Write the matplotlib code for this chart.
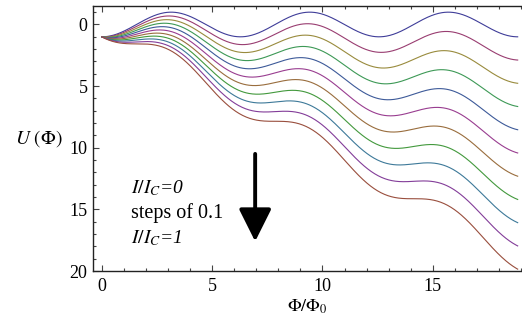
import colorsys
import numpy as np
import matplotlib
matplotlib.use("Agg")
import matplotlib.pyplot as plt
from matplotlib.ticker import MultipleLocator

# bias current I/I_C for each curve, top to bottom
currents = [0.0, 0.1, 0.2, 0.3, 0.4, 0.5, 0.6, 0.7, 0.8, 0.9, 1.0]
# Mathematica-style hues for the curves
hues = [0.67, 0.906, 0.142, 0.378, 0.614, 0.85, 0.086, 0.322, 0.558, 0.794, 0.03]
phi_max = 6 * np.pi

x_ticks = [0, 5, 10, 15]
y_ticks = [0, 5, 10, 15, 20]

plt.rcParams['font.family'] = ['Liberation Serif', 'DejaVu Serif']
plt.rcParams['mathtext.fontset'] = 'stix'

fig = plt.figure(figsize=(5.22, 3.23), dpi=100)
ax = fig.add_axes([93 / 522, (323 - 271) / 323, (521 - 93) / 522, (271 - 6) / 323])

phi = np.linspace(0, phi_max, 600)
for cur, h in zip(currents, hues):
    color = colorsys.hsv_to_rgb(h, 0.6, 0.6)
    # tilted washboard potential
    ax.plot(phi, np.cos(phi) + cur * phi, color=color, lw=0.8)

ax.set_xlim(-0.4, 19.0)
ax.set_ylim(20, -1.5)
ax.set_xticks(x_ticks)
ax.set_yticks(y_ticks)
ax.xaxis.set_minor_locator(MultipleLocator(1))
ax.yaxis.set_minor_locator(MultipleLocator(1))
ax.tick_params(which='both', direction='in', top=True, right=False,
               labelsize=13, width=0.8, color='#444444')
ax.tick_params(which='major', length=4)
ax.tick_params(which='minor', length=2)
ax.tick_params(axis='x', pad=5)
ax.tick_params(axis='y', pad=4)
ax.spines['right'].set_visible(False)
for s in ['left', 'bottom', 'top']:
    ax.spines[s].set_linewidth(1.0)
    ax.spines[s].set_color('#222222')

ax.set_xlabel(r'$\Phi/\Phi_0$', fontsize=13, labelpad=2)
ax.set_ylabel(r'$U$ $(\Phi)$', fontsize=14, rotation=0, labelpad=22, va='center')

ax.text(1.3, 13.25, r'$I/I_C$=0', fontsize=14, va='center', style='italic')
ax.text(1.3, 15.3, 'steps of 0.1', fontsize=14.5, va='center')
ax.text(1.3, 17.3, r'$I/I_C$=1', fontsize=14, va='center', style='italic')

ax.annotate('', xy=(6.95, 17.6), xytext=(6.95, 10.5),
            arrowprops=dict(arrowstyle='-|>,head_width=0.5,head_length=1.0',
                            mutation_scale=20, shrinkA=0, shrinkB=0,
                            color='black', lw=2.8))

fig.savefig('out.png', dpi=100)
